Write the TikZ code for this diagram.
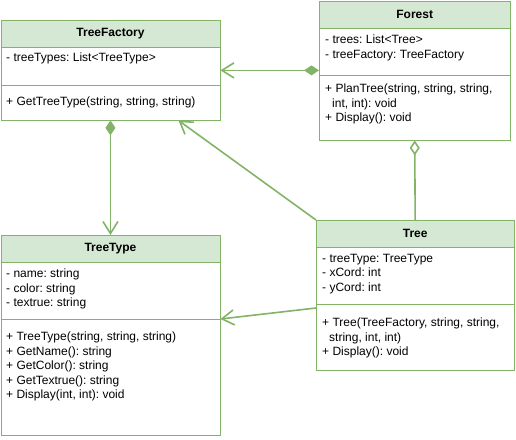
\documentclass[tikz,border=0pt]{standalone}
\usepackage{fontspec}
\setmainfont{Liberation Sans}
\usetikzlibrary{arrows.meta}
\definecolor{umlline}{HTML}{82B366}
\definecolor{umlfill}{HTML}{D5E8D4}
\frenchspacing
\begin{document}
\begin{tikzpicture}
	[   x=1pt,y=-1pt,
	    font=\fontsize{12pt}{14.4pt}\selectfont,
	    classhead/.style={draw=umlline,fill=umlfill,anchor=north west,inner sep=0pt,minimum width=#1,minimum height=27pt,font=\fontsize{12pt}{14.4pt}\selectfont\bfseries},
	    compart/.style={draw=umlline,fill=white,anchor=north west,inner sep=0pt,minimum width=#1},
	    members/.style={anchor=north west,inner sep=0pt,align=left},
	]
	\tikzset{uml line/.style={draw=umlline,line width=1.6pt},
	         open arrow/.style={uml line,-{Straight Barb[length=12pt,width=15pt]}},
	         composition/.style={uml line,{Diamond[length=15pt,width=10pt]}-{Straight Barb[length=12pt,width=15pt]}},
	         aggregation/.style={uml line,{Diamond[open,length=15pt,width=10pt]}-}}
	\useasboundingbox (0,0) rectangle (516,439);

	% TreeFactory
	\node[classhead=219.5pt] (tf-head) at (0.5,20) {TreeFactory};
	\node[compart=219.5pt,minimum height=38pt] (tf-attr) at (0.5,47) {};
	\node[compart=219.5pt,minimum height=35pt] (tf-ops) at (0.5,85) {};
	\node[members] (tf-attr-txt) at (6,53) {- treeTypes: List<TreeType>};
	\node[members] (tf-ops-txt) at (6,97) {+ GetTreeType(string, string, string)};

	% Forest
	\node[classhead=191pt] (fo-head) at (319,1) {Forest};
	\node[compart=191pt,minimum height=47pt] (fo-attr) at (319,28) {};
	\node[compart=191pt,minimum height=65pt] (fo-ops) at (319,75) {};
	\node[members] (fo-attr-txt) at (325,35) {- trees: List<Tree>\\- treeFactory: TreeFactory};
	\node[members] (fo-ops-txt) at (325,84) {+ PlanTree(string, string, string,\\\hspace*{7pt}int, int): void\\+ Display(): void};

	% TreeType
	\node[classhead=219.5pt] (tt-head) at (0.5,235) {TreeType};
	\node[compart=219.5pt,minimum height=57pt] (tt-attr) at (0.5,262) {};
	\node[compart=219.5pt,minimum height=116pt] (tt-ops) at (0.5,319) {};
	\node[members] (tt-attr-txt) at (6,269) {- name: string\\- color: string\\- textrue: string};
	\node[members] (tt-ops-txt) at (6,332) {+ TreeType(string, string, string)\\+ GetName(): string\\+ GetColor(): string\\+ GetTextrue(): string\\+ Display(int, int): void};

	% Tree
	\node[classhead=198pt] (tr-head) at (316,220) {Tree};
	\node[compart=198pt,minimum height=57pt] (tr-attr) at (316,247) {};
	\node[compart=198pt,minimum height=66pt] (tr-ops) at (316,304) {};
	\node[members] (tr-attr-txt) at (322,254) {- treeType: TreeType\\- xCord: int\\- yCord: int};
	\node[members] (tr-ops-txt) at (322,318) {+ Tree(TreeFactory, string, string,\\\hspace*{7pt}string, int, int)\\+ Display(): void};

	% relations
	\coordinate (fo-link) at ([yshift=5pt]fo-attr.south west);
	\path[composition] (fo-link) -- (tf-attr.east |- fo-link);
	\path[composition] (tf-ops.south) -- (tt-head.north);
	\path[open arrow] (tr-head.north west) -- ([xshift=68pt]tf-ops.south);
	\path[aggregation] (fo-ops.south) -- (tr-head.north);
	\path[open arrow] ([yshift=-4pt]tr-ops.north west) -- (tt-ops.north east);
\end{tikzpicture}
\end{document}
